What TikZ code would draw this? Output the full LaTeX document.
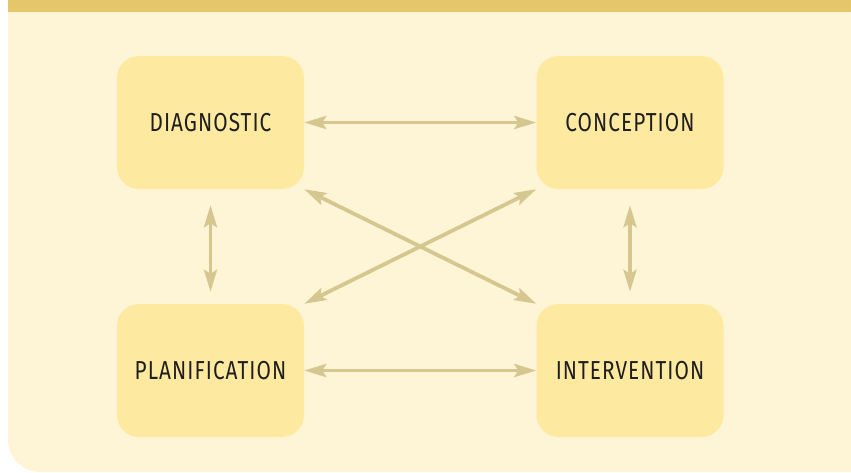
\documentclass[tikz,border=0pt]{standalone}
\usepackage{fontspec}
\usetikzlibrary{arrows.meta}
\newfontfamily\stagefont[FakeStretch=0.8,LetterSpace=4]{Fira Sans}
\definecolor{bandgold}{HTML}{E5C76B}
\definecolor{paper}{HTML}{FEF5D6}
\definecolor{boxyellow}{HTML}{FEE9A0}
\definecolor{arrowtan}{HTML}{D6C68F}
\definecolor{inkgray}{HTML}{1E1E1E}
\tikzset{
  stage/.style={fill=boxyellow, rounded corners=22pt, minimum width=187pt, minimum height=133pt,
    inner sep=0pt, text=inkgray, font=\stagefont\fontsize{26}{26}\selectfont},
  link/.style={draw=arrowtan, line width=3.8pt,
    {Stealth[length=22pt,width=13pt,inset=4pt]}-{Stealth[length=22pt,width=13pt,inset=4pt]}},
}
\begin{document}
\begin{tikzpicture}[x=1pt,y=-1pt]
  \useasboundingbox (0,0) rectangle (851,472);
  % background and top band
  \fill[paper] (851,0) -- (8,0) {[rounded corners=32pt] -- (8,472)} -- (851,472) -- cycle;
  \fill[bandgold] (8,0) rectangle (851,12);

  % the four stages
  \node[stage] (diag)   at (210.5,122.5) {DIAGNOSTIC};
  \node[stage] (concep) at (630,122.5)   {CONCEPTION};
  \node[stage] (plan)   at (210.5,370.5) {PLANIFICATION};
  \node[stage] (interv) at (630,370.5)   {INTERVENTION};

  % links
  \draw[link] (diag.east) -- (concep.west);
  \draw[link] (plan.east) -- (interv.west);
  \draw[link, shorten <=16pt, shorten >=12pt] (diag.south) -- (plan.north);
  \draw[link, shorten <=16pt, shorten >=12pt] (concep.south) -- (interv.north);
  \draw[link] (diag.south east) -- (interv.north west);
  \draw[link] (concep.south west) -- (plan.north east);
\end{tikzpicture}
\end{document}
